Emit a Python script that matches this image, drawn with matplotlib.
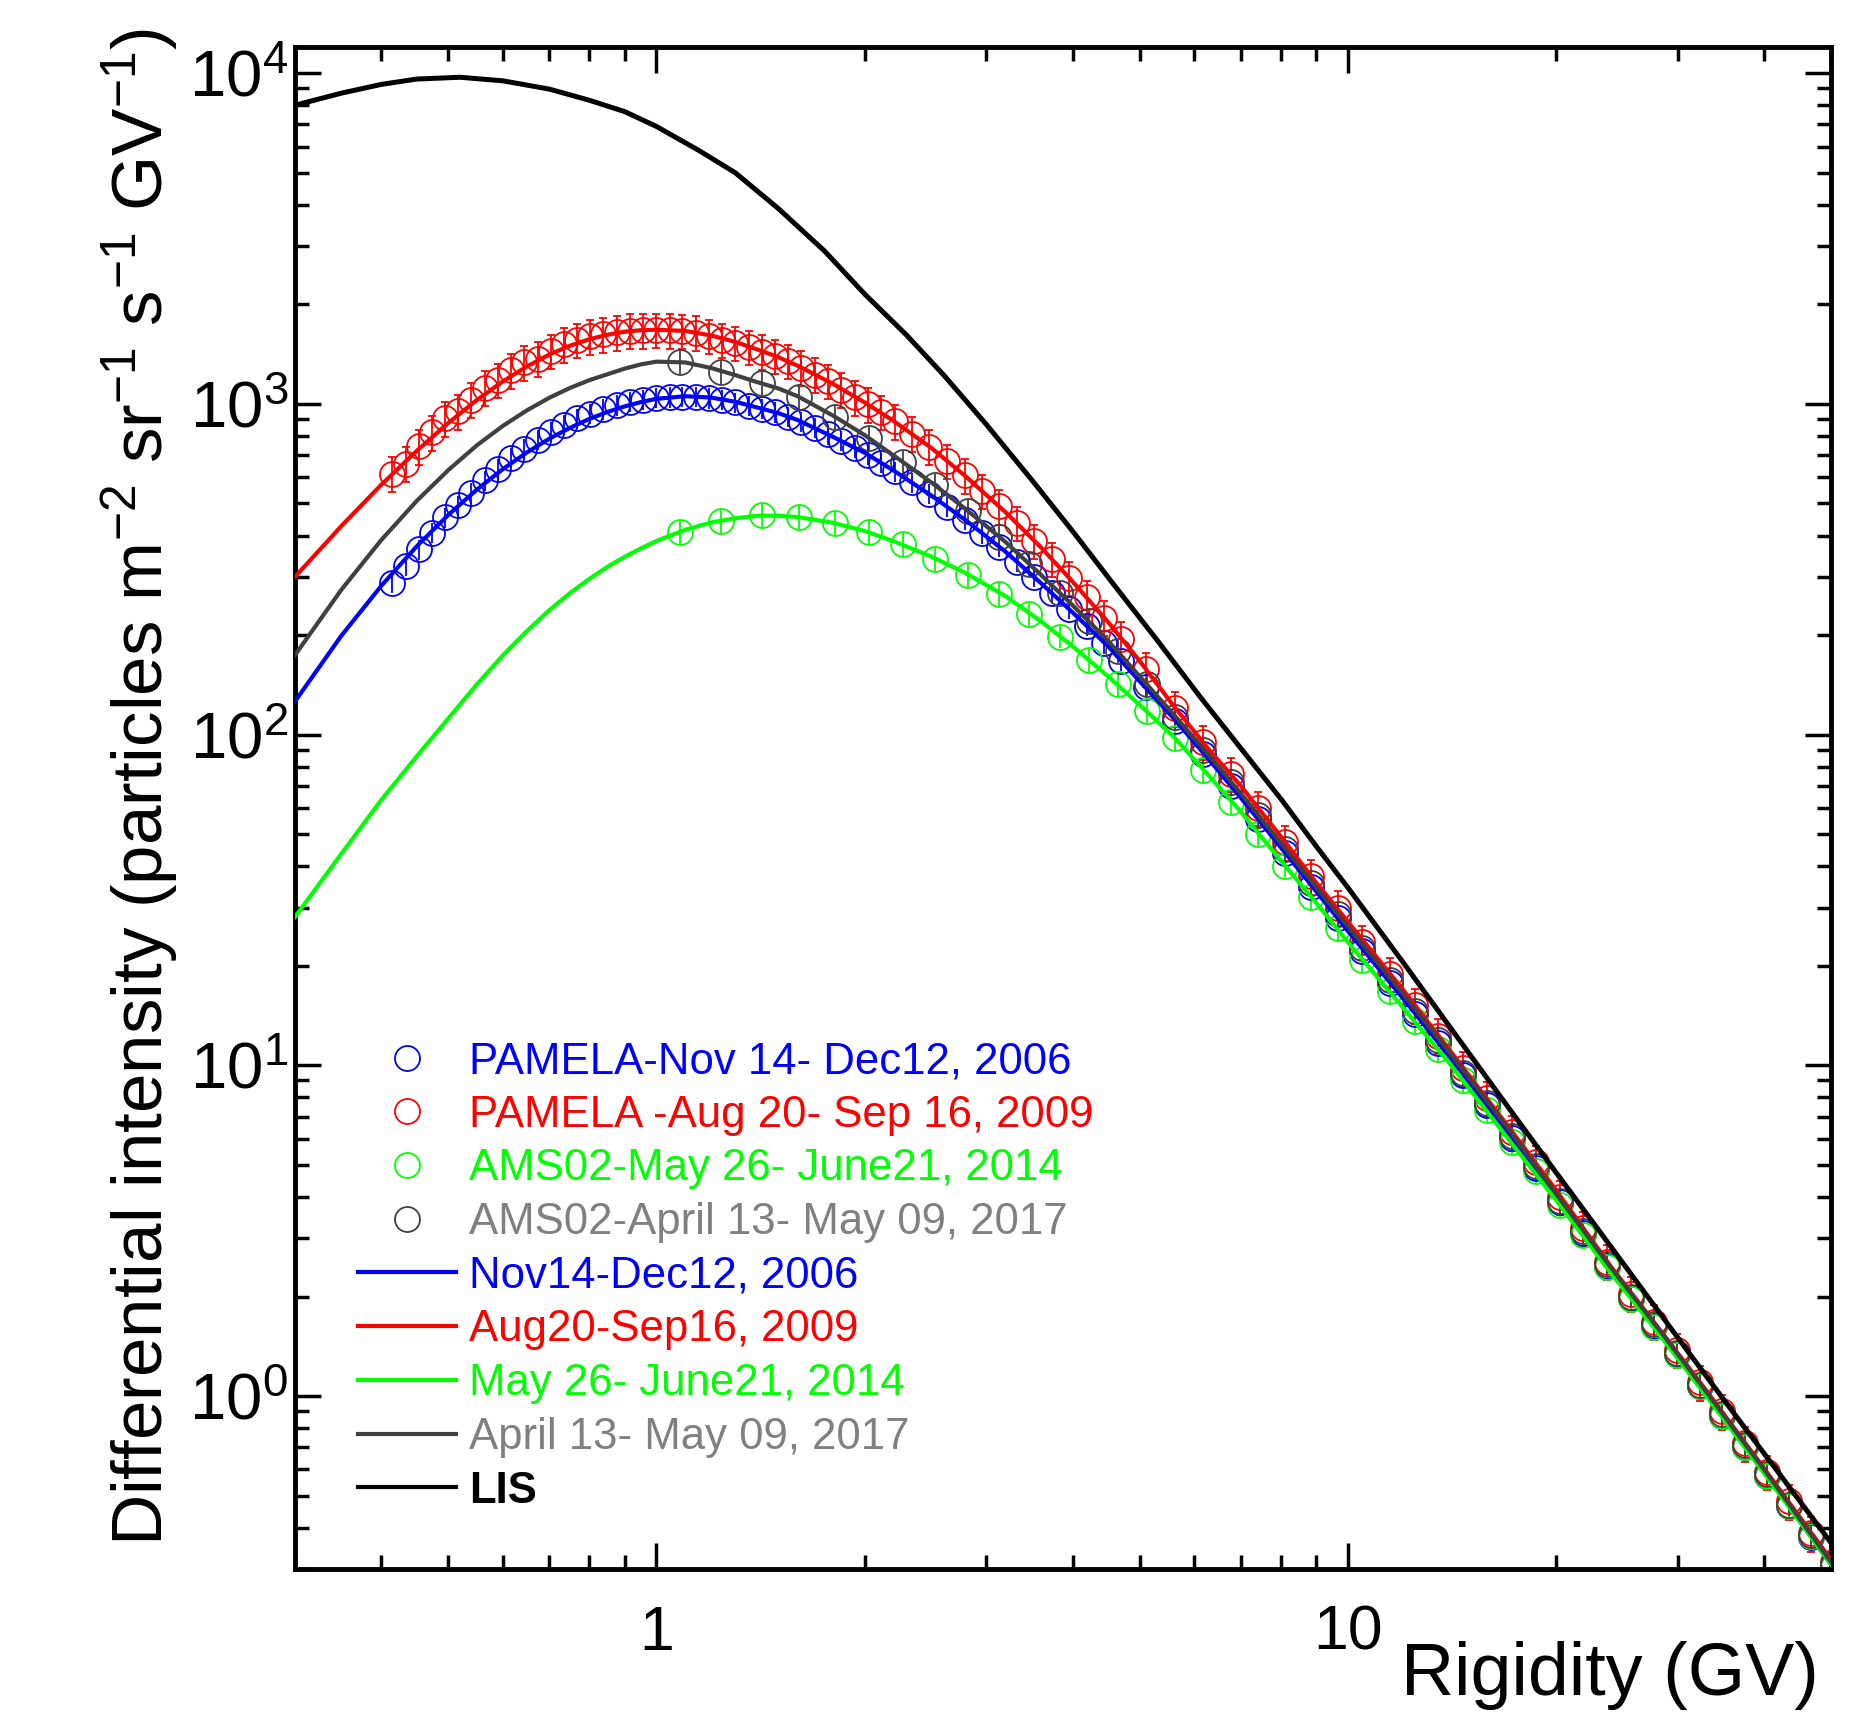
import numpy as np
import matplotlib
matplotlib.use('Agg')
import matplotlib.pyplot as plt
from matplotlib.lines import Line2D
from matplotlib.ticker import FixedLocator, FixedFormatter, LogLocator, NullFormatter

plt.rcParams['font.family'] = ['Liberation Sans', 'DejaVu Sans']
plt.rcParams['mathtext.fontset'] = 'custom'
plt.rcParams['mathtext.rm'] = 'Liberation Sans'
plt.rcParams['mathtext.it'] = 'Liberation Sans:italic'
plt.rcParams['mathtext.bf'] = 'Liberation Sans:bold'
plt.rcParams['mathtext.default'] = 'regular'

# PAMELA rigidity bins (GV)
pam_r = [0.415, 0.434, 0.453, 0.474, 0.495, 0.517, 0.540, 0.565, 0.590, 0.617,
         0.644, 0.673, 0.703, 0.735, 0.768, 0.802, 0.838, 0.876, 0.915, 0.956,
         1.00, 1.045, 1.09, 1.14, 1.19, 1.245, 1.30, 1.36, 1.42, 1.485,
         1.55, 1.62, 1.695, 1.77, 1.85, 1.935, 2.02, 2.11, 2.21,
         2.34, 2.48, 2.63, 2.79, 2.96, 3.13, 3.32, 3.52, 3.73, 3.95, 4.19, 4.44, 4.70, 5.10,
         5.63, 6.18, 6.77, 7.42, 8.11, 8.86, 9.67, 10.5, 11.5, 12.5,
         13.5, 14.7, 15.9, 17.3, 18.7, 20.3, 21.9, 23.7, 25.7, 27.7,
         29.9, 32.3, 34.8, 37.5, 40.4, 43.5, 46.8, 50.3]
pam06 = [288, 324, 363, 408, 454, 493, 537, 587, 635, 686,
         733, 779, 822, 863, 904, 934, 964, 991, 1013, 1031,
         1042, 1048, 1050, 1050, 1041, 1029, 1010, 988, 966, 944,
         915, 883, 846, 809, 773, 738, 703, 664, 625,
         579, 534, 489, 447, 406, 370, 333, 300, 268, 240, 213, 189, 167, 139,
         110, 87.5, 70, 55.5, 43.8, 34.6, 27.9, 22.1, 17.7, 14.3,
         11.7, 9.35, 7.6, 6.03, 4.9, 3.86, 3.12, 2.48, 1.98, 1.63,
         1.34, 1.07, 0.87, 0.70, 0.575, 0.465, 0.376, 0.307]
pam09 = [615, 660, 745, 820, 905, 950, 1030, 1120, 1180, 1264,
         1335, 1370, 1445, 1515, 1560, 1600, 1625, 1645, 1665, 1670,
         1672, 1670, 1660, 1642, 1603, 1560, 1528, 1487, 1440, 1395,
         1348, 1288, 1226, 1172, 1104, 1048, 998, 945, 885,
         813, 742, 673, 608, 545, 490, 436, 385, 340, 298, 260, 226, 195, 158,
         120, 95, 76, 60, 47.3, 37.3, 30.0, 23.6, 18.9, 15.2,
         12.3, 9.8, 7.95, 6.28, 5.1, 4.0, 3.22, 2.55, 2.04, 1.68,
         1.38, 1.10, 0.90, 0.72, 0.59, 0.48, 0.385, 0.315]

# AMS-02 rigidity bins (GV)
ams_r = [1.08, 1.24, 1.42, 1.61, 1.81, 2.03, 2.27, 2.53, 2.82, 3.13,
         3.46, 3.83, 4.22, 4.65, 5.12, 5.63, 6.18, 6.77, 7.42, 8.11,
         8.86, 9.67, 10.5, 11.5, 12.5, 13.5, 14.7, 15.9, 17.3, 18.7,
         20.3, 21.9, 23.7, 25.7, 27.7, 29.9, 32.3, 34.8, 37.5, 40.4,
         43.5, 46.8, 50.3]
ams14 = [410, 443, 462, 455, 437, 410, 376, 340, 303, 266,
         231, 198, 168, 142, 118, 97.5, 78, 62.5, 50, 40.2,
         32.3, 26.0, 20.8, 16.8, 13.6, 11.2, 9.0, 7.35, 5.85, 4.78,
         3.78, 3.07, 2.45, 1.96, 1.62, 1.33, 1.07, 0.87, 0.70, 0.575,
         0.465, 0.377, 0.308]
ams17 = [1342, 1250, 1153, 1050, 914, 786, 668, 567, 474, 397,
         328, 268, 220, 179, 142, 113, 90, 72, 57, 45,
         35.5, 28.6, 22.6, 18.1, 14.6, 11.9, 9.5, 7.7, 6.1, 4.95,
         3.9, 3.15, 2.5, 2.0, 1.65, 1.35, 1.08, 0.88, 0.71, 0.58,
         0.47, 0.38, 0.31]

# relative error bar size per data set
err06, err09, err14, err17 = 0.07, 0.12, 0.08, 0.08

# model curves
fit_r = [0.30, 0.35, 0.40, 0.45, 0.50, 0.55, 0.60, 0.65, 0.70, 0.75, 0.80, 0.85, 0.90, 0.95, 1.0,
         1.1, 1.2, 1.3, 1.4, 1.5, 1.6, 1.8, 2.0,
         2.2, 2.5, 2.8, 3.2, 3.6, 4.0, 4.5, 5.0, 5.6,
         6.3, 7.0, 8.0, 9.0, 10,
         12, 14, 17, 20, 24, 28, 33, 40, 50]
fit06 = [126, 199, 282, 371, 462, 551, 636, 714, 785, 847, 901, 946, 983, 1013, 1036,
         1055, 1045, 1015, 975, 938, 894, 795, 712,
         630, 528, 445, 357, 287, 234, 185, 145, 112,
         84, 64.5, 45.6, 33.6, 25.5,
         16.0, 10.7, 6.3, 4.0, 2.4, 1.59, 1.01, 0.59, 0.31]
fit09 = [300, 427, 570, 721, 876, 1028, 1171, 1299, 1410, 1500, 1569, 1619, 1653, 1671, 1676,
         1662, 1610, 1540, 1460, 1385, 1305, 1150, 1010,
         890, 735, 604, 470, 368, 290, 219, 167, 122,
         90, 70, 49.2, 35.7, 27.2,
         17.0, 11.2, 6.6, 4.2, 2.47, 1.63, 1.04, 0.605, 0.32]
fit14 = [28.1, 43.6, 63.5, 86, 112, 142, 174, 206, 238, 268, 296, 322, 345, 366, 385,
         416, 438, 451, 459, 459, 455, 437, 413,
         385, 345, 308, 262, 220, 185, 150, 123, 98.5,
         75, 58.5, 41.6, 31.0, 23.6,
         15.0, 10.2, 6.05, 3.92, 2.36, 1.57, 1.0, 0.585, 0.31]
fit17 = [174, 274, 388, 509, 631, 750, 859, 957, 1044, 1118, 1180, 1230, 1279, 1317, 1342,
         1335, 1284, 1222, 1163, 1114, 1055, 922, 805,
         700, 578, 481, 382, 304, 246, 192, 150, 115,
         86.5, 66.5, 47, 34.6, 26.3,
         16.5, 11.0, 6.5, 4.1, 2.45, 1.62, 1.03, 0.60, 0.315]

lis_r = [0.30, 0.35, 0.40, 0.45, 0.52, 0.60, 0.70, 0.80, 0.90, 1.0,
         1.15, 1.3, 1.5, 1.75, 2.0, 2.3, 2.6, 3.0, 3.5, 4.0,
         4.6, 5.3, 6.1, 7.0, 8.0, 9.0, 10.0, 12.0, 14.0, 17.0,
         20.0, 23.0, 27.0, 31.0, 36.0, 42.0, 50.0]
lis_j = [8000, 8700, 9250, 9600, 9720, 9480, 8950, 8280, 7650, 6900,
         5850, 5000, 3900, 2900, 2150, 1615, 1226, 867, 585, 412,
         282, 193, 131, 91, 64, 46, 34.5, 20.6, 13.2, 7.55,
         4.75, 3.2, 2.03, 1.37, 0.90, 0.586, 0.36]

BLUE, RED, GREEN = '#0000ff', '#ff0000', '#00ff00'
DGRAY, LGRAY = '#404040', '#808080'

fig = plt.figure(figsize=(18.7, 17.17), dpi=100)
ax = fig.add_axes([295/1870, 1 - 1569/1717, 1536/1870, 1522/1717])

ms = 18
def data(r, j, frac, c, cap):
    j = np.array(j)
    ax.errorbar(r, j, yerr=frac*j, fmt='o', ms=ms, mfc='none', mec=c, mew=1.3,
                ecolor=c, elinewidth=1.3, capsize=cap, capthick=1.3, zorder=2)

data(pam_r, pam06, err06, BLUE, 0)
data(pam_r, pam09, err09, RED, 3)
data(ams_r, ams14, err14, GREEN, 0)
data(ams_r, ams17, err17, DGRAY, 0)

ax.plot(fit_r, fit06, color=BLUE, lw=3.0, zorder=3)
ax.plot(fit_r, fit09, color=RED, lw=3.0, zorder=3)
ax.plot(fit_r, fit14, color=GREEN, lw=3.0, zorder=3)
ax.plot(fit_r, fit17, color=DGRAY, lw=3.0, zorder=3)
ax.plot(lis_r, lis_j, color='black', lw=3.6, zorder=3)

ax.set_xscale('log')
ax.set_yscale('log')
ax.set_xlim(0.3, 50)
ax.set_ylim(0.3, 12000)

ax.xaxis.set_major_locator(FixedLocator([1, 10]))
ax.xaxis.set_major_formatter(FixedFormatter(['1', '10']))
ax.xaxis.set_minor_locator(LogLocator(base=10, subs=np.arange(2, 10), numticks=20))
ax.xaxis.set_minor_formatter(NullFormatter())
ax.yaxis.set_major_locator(FixedLocator([1, 10, 100, 1000, 10000]))
ax.yaxis.set_major_formatter(FixedFormatter([r'$10^{0}$', r'$10^{1}$', r'$10^{2}$',
                                             r'$10^{3}$', r'$10^{4}$']))
ax.yaxis.set_minor_locator(LogLocator(base=10, subs=np.arange(2, 10), numticks=20))
ax.yaxis.set_minor_formatter(NullFormatter())

ax.tick_params(which='both', direction='in', top=True, right=True, width=2.5)
ax.tick_params(which='major', length=19)
ax.tick_params(which='minor', length=10)
ax.tick_params(axis='x', which='major', pad=25, labelsize=45)
ax.tick_params(axis='y', which='major', pad=5, labelsize=47)
for s in ax.spines.values():
    s.set_linewidth(3.5)

ax.text(0.992, -0.07, 'Rigidity (GV)', transform=ax.transAxes, ha='right', va='center',
        fontsize=53)
fig.text(140/1870, 1 - 787/1717,
         r'Differential intensity (particles m$^{-2}$ sr$^{-1}$ s$^{-1}$ GV$^{-1}$)',
         rotation=90, ha='center', va='center', fontsize=51)

def pts(c):
    return Line2D([], [], ls='none', marker='o', ms=ms, mfc='none', mec=c, mew=1.3)

def ln(c):
    return Line2D([], [], color=c, lw=3.0)

handles = [pts(BLUE), pts(RED), pts(GREEN), pts(DGRAY),
           ln(BLUE), ln(RED), ln(GREEN), ln(DGRAY), ln('black')]
labels = ['PAMELA-Nov 14- Dec12, 2006', 'PAMELA -Aug 20- Sep 16, 2009',
          'AMS02-May 26- June21, 2014', 'AMS02-April 13- May 09, 2017',
          'Nov14-Dec12, 2006', 'Aug20-Sep16, 2009', 'May 26- June21, 2014',
          'April 13- May 09, 2017', 'LIS']
text_colors = [BLUE, RED, GREEN, LGRAY, BLUE, RED, GREEN, LGRAY, 'black']

leg = ax.legend(handles, labels, loc='upper left', bbox_to_anchor=(358/1870, 1 - 1041/1717),
                bbox_transform=fig.transFigure, frameon=False, fontsize=31.5,
                handlelength=2.24, handletextpad=0.3, labelspacing=0.29,
                borderpad=0, borderaxespad=0)
for t, c in zip(leg.get_texts(), text_colors):
    t.set_color(c)
leg.get_texts()[-1].set_fontweight('bold')

fig.savefig('out.png', dpi=100)
